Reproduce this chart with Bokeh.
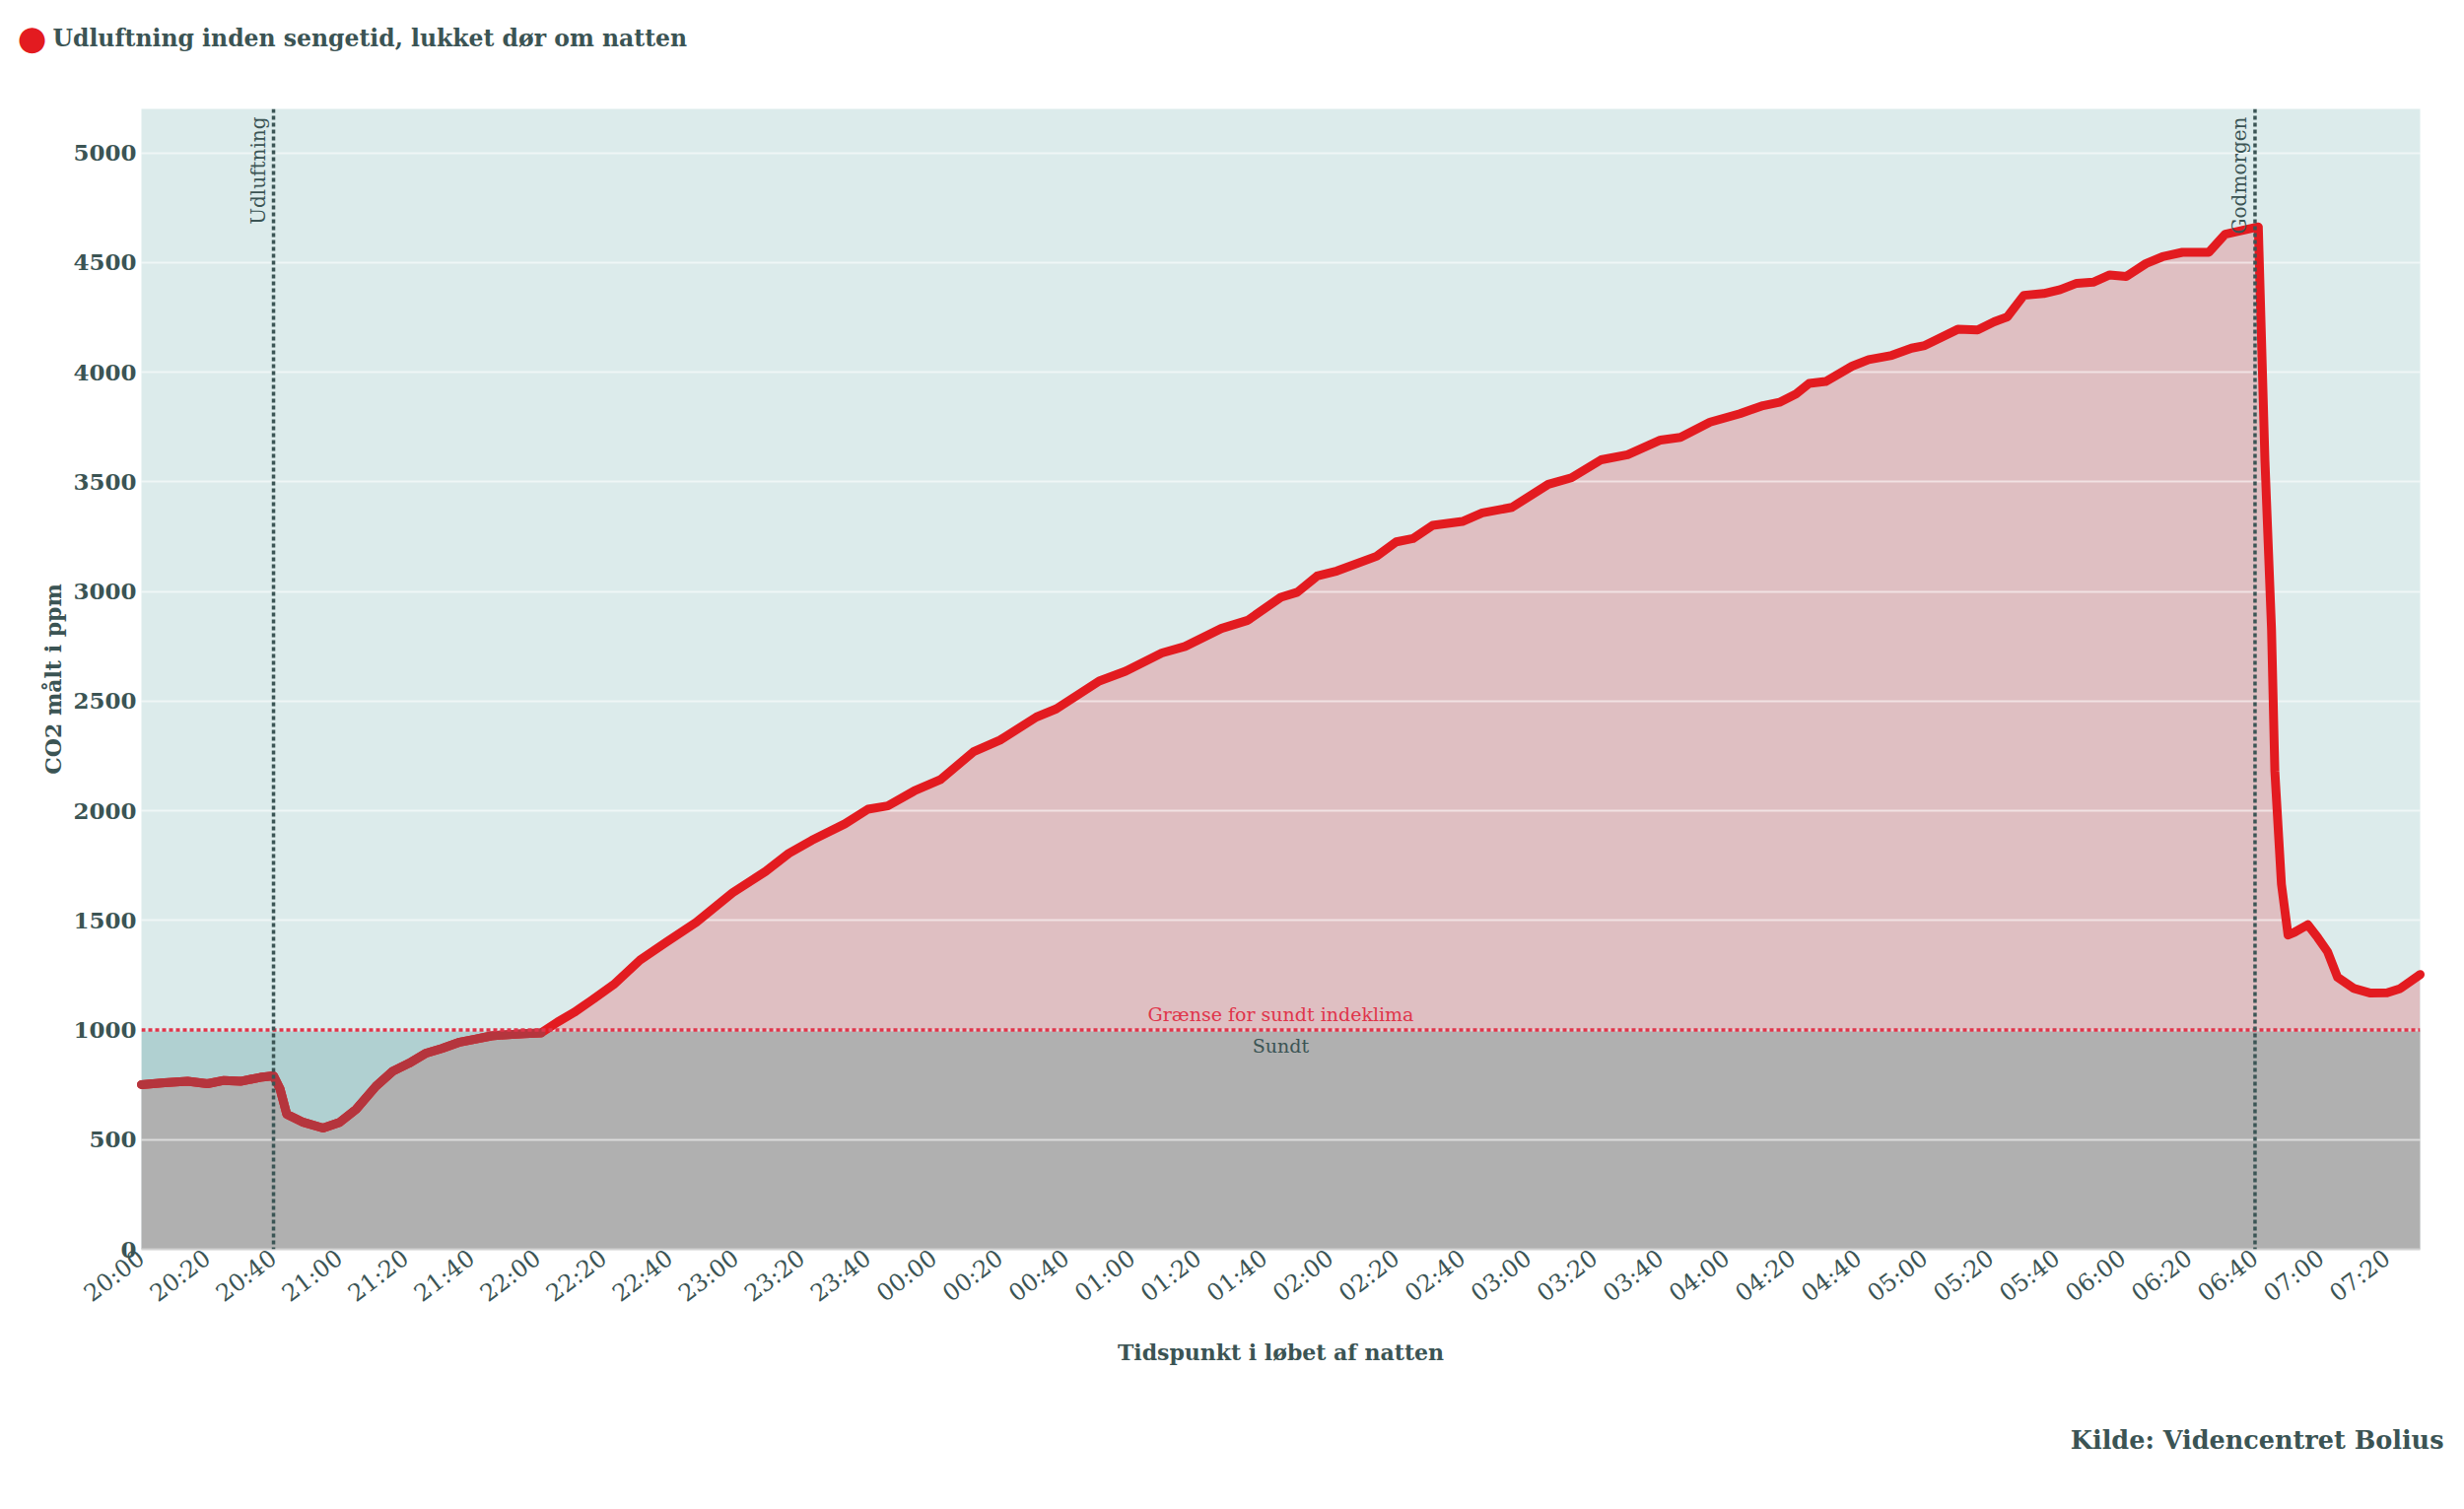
import numpy as np
import pandas as pd
from bokeh.plotting import figure
from bokeh.models import Range1d, Span, Label, FixedTicker, Title
from bokeh.embed import file_html
from bokeh.resources import INLINE

# ---------------- data ----------------
times = ["20:00", "20:07", "20:14", "20:20", "20:25", "20:30", "20:36", "20:40", "20:42", "20:44",
         "20:49", "20:55", "21:00", "21:05", "21:11", "21:16", "21:21", "21:26", "21:31", "21:36",
         "21:41", "21:46", "21:51", "21:56", "22:01", "22:06", "22:11", "22:16", "22:23", "22:31",
         "22:39", "22:48", "22:59", "23:09", "23:16", "23:23", "23:33", "23:40", "23:46", "23:54",
         "00:02", "00:12", "00:20", "00:31", "00:37", "00:50", "00:58", "01:09", "01:16", "01:27",
         "01:35", "01:45", "01:50", "01:56", "02:02", "02:14", "02:20", "02:25", "02:31", "02:40",
         "02:46", "02:55", "03:06", "03:13", "03:22", "03:30", "03:40", "03:46", "03:55", "04:04",
         "04:11", "04:16", "04:21", "04:25", "04:30", "04:38", "04:43", "04:50", "04:56", "05:00",
         "05:10", "05:16", "05:21", "05:25", "05:30", "05:36", "05:41", "05:46", "05:51", "05:56",
         "06:01", "06:07", "06:12", "06:18", "06:26", "06:31", "06:35", "06:41", "06:43", "06:45",
         "06:46", "06:48", "06:50", "06:52", "06:56", "06:59", "07:02", "07:05", "07:10", "07:15",
         "07:20", "07:24", "07:30"]
co2 = [751, 760, 766, 755, 770, 766, 784, 791, 730, 616,
       579, 553, 579, 638, 743, 811, 848, 893, 916, 943,
       958, 973, 979, 983, 986, 1036, 1080, 1132, 1207, 1319,
       1401, 1491, 1626, 1723, 1805, 1865, 1940, 2007, 2022, 2090,
       2142, 2269, 2322, 2427, 2464, 2591, 2636, 2719, 2749, 2831,
       2868, 2973, 2996, 3070, 3093, 3160, 3226, 3241, 3301, 3319,
       3358, 3383, 3488, 3518, 3600, 3623, 3690, 3702, 3772, 3810,
       3847, 3862, 3900, 3948, 3957, 4027, 4057, 4076, 4109, 4121,
       4195, 4192, 4229, 4252, 4350, 4358, 4376, 4405, 4410, 4443,
       4436, 4495, 4526, 4546, 4546, 4629, 4642, 4662, 3598, 2825,
       2181, 1665, 1433, 1446, 1480, 1421, 1356, 1240, 1189, 1168,
       1170, 1189, 1253]
tick_labels = ["20:00", "20:20", "20:40", "21:00", "21:20", "21:40", "22:00", "22:20", "22:40",
               "23:00", "23:20", "23:40", "00:00", "00:20", "00:40", "01:00", "01:20", "01:40",
               "02:00", "02:20", "02:40", "03:00", "03:20", "03:40", "04:00", "04:20", "04:40",
               "05:00", "05:20", "05:40", "06:00", "06:20", "06:40", "07:00", "07:20"]
y_ticks = [0, 500, 1000, 1500, 2000, 2500, 3000, 3500, 4000, 4500, 5000]
event_times = ["20:40", "06:40"]
event_labels = ["Udluftning", "Godmorgen"]
x_start, x_end = "20:00", "07:30"
y_max = 5200
limit_value = 1000
limit_label = "Grænse for sundt indeklima"
healthy_label = "Sundt"
series_name = "Udluftning inden sengetid, lukket dør om natten"
x_title = "Tidspunkt i løbet af natten"
y_title = "CO2 målt i ppm"
source_text = "Kilde: Videncentret Bolius"

# ---------------- styling ----------------
FONT = "DejaVu Serif"
TXT = "#3b5454"
RED = "#e31b20"
DARK_RED = "#b5353d"
LIMIT_RED = "#e0344a"
W, H = 2500, 1531


def to_ms(s):
    h, m = map(int, s.split(":"))
    day = 1 if h >= 12 else 2
    return pd.Timestamp(2023, 1, day, h, m).value / 1e6


x0, x1 = to_ms(x_start), to_ms(x_end)
x = np.array([to_ms(t) for t in times])
y = np.array(co2, dtype=float)
y_low = np.minimum(y, limit_value)
y_below_only = np.where(y <= limit_value, y, np.nan)

p = figure(width=W, height=H, x_axis_type="datetime",
           x_range=Range1d(x0, x1), y_range=Range1d(0, y_max),
           output_backend="svg", toolbar_location=None,
           min_border_left=143, min_border_right=45, min_border_top=110, min_border_bottom=264,
           background_fill_color="#dcebeb", border_fill_color="white", outline_line_color=None)

p.varea(x=x, y1=0, y2=np.full(len(x), limit_value), color="#b0d0d1")
p.varea(x=x, y1=0, y2=y, color="#dfbfc2")
p.varea(x=x, y1=0, y2=y_low, color="#b0b0b0")

p.xgrid.grid_line_color = None
p.ygrid.grid_line_color = "white"
p.ygrid.grid_line_alpha = 0.55
p.ygrid.grid_line_width = 2
p.ygrid.level = "guide"
p.ygrid.ticker = FixedTicker(ticks=y_ticks)

p.line(x=x, y=y, line_color=RED, line_width=9, line_join="round", line_cap="round", level="overlay")
p.line(x=x, y=y_below_only, line_color=DARK_RED, line_width=9, line_join="round", line_cap="round",
       level="overlay")

p.add_layout(Span(location=limit_value, dimension="width", line_color=LIMIT_RED, line_width=3.5,
                  line_dash="4 3", level="overlay"))
mid = (x0 + x1) / 2
p.add_layout(Label(x=mid, y=limit_value, text=limit_label, text_align="center", text_baseline="bottom",
                   y_offset=5, text_font=FONT, text_font_size="19px", text_color=LIMIT_RED, level="overlay"))
p.add_layout(Label(x=mid, y=limit_value, text=healthy_label, text_align="center", text_baseline="top",
                   y_offset=-5, text_font=FONT, text_font_size="19px", text_color=TXT, level="overlay"))

for t, lab in zip(event_times, event_labels):
    p.add_layout(Span(location=to_ms(t), dimension="height", line_color="#3b5555", line_width=3.5,
                      line_dash="4 3", level="overlay"))
    p.add_layout(Label(x=to_ms(t), y=y_max, text=lab, angle=np.pi / 2, text_align="right",
                       text_baseline="bottom", y_offset=-8, x_offset=-4, text_font=FONT,
                       text_font_size="20px", text_color=TXT, level="overlay"))

tick_ms = [to_ms(t) for t in tick_labels]
p.xaxis.ticker = FixedTicker(ticks=tick_ms)
p.xaxis.major_label_overrides = {ms: lab for ms, lab in zip(tick_ms, tick_labels)}
p.xaxis.major_label_orientation = 0.65
p.xaxis.major_label_text_font = FONT
p.xaxis.major_label_text_font_size = "24px"
p.xaxis.major_label_text_color = TXT
p.xaxis.major_label_standoff = 6
p.xaxis.axis_line_color = "#d0d0d0"
p.xaxis.axis_line_width = 2
p.xaxis.major_tick_line_color = None
p.xaxis.major_tick_out = 0
p.xaxis.minor_tick_line_color = None
p.xaxis.axis_label = x_title
p.xaxis.axis_label_text_font = FONT
p.xaxis.axis_label_text_font_size = "22px"
p.xaxis.axis_label_text_font_style = "bold"
p.xaxis.axis_label_text_color = TXT
p.xaxis.axis_label_standoff = 18

p.yaxis.ticker = FixedTicker(ticks=y_ticks)
p.yaxis.major_label_text_font = FONT
p.yaxis.major_label_text_font_size = "23px"
p.yaxis.major_label_text_font_style = "bold"
p.yaxis.major_label_text_color = TXT
p.yaxis.major_label_standoff = 5
p.yaxis.major_tick_out = 0
p.yaxis.axis_line_color = None
p.yaxis.major_tick_line_color = None
p.yaxis.minor_tick_line_color = None
p.yaxis.axis_label = y_title
p.yaxis.axis_label_text_font = FONT
p.yaxis.axis_label_text_font_size = "22px"
p.yaxis.axis_label_text_font_style = "bold"
p.yaxis.axis_label_text_color = TXT
p.yaxis.axis_label_standoff = 4

# header (legend) in the panel above the frame, source in the panel below
p.add_layout(Label(x=-111, y=73, x_units="screen", y_units="screen", text="●", text_align="center",
                   text_baseline="middle", text_font="DejaVu Sans", text_font_size="34px",
                   text_color=RED), "above")
p.add_layout(Label(x=-90, y=32, x_units="screen", y_units="screen", text=series_name, text_align="left",
                   text_baseline="middle", text_font=FONT, text_font_size="23.5px", text_font_style="bold",
                   text_color=TXT), "above")
p.add_layout(Title(text=source_text, align="right", offset=-24, standoff=112, text_font=FONT,
                   text_font_size="25.5px", text_font_style="bold", text_color=TXT), "below")

open("out.html", "w").write(file_html(p, INLINE))
